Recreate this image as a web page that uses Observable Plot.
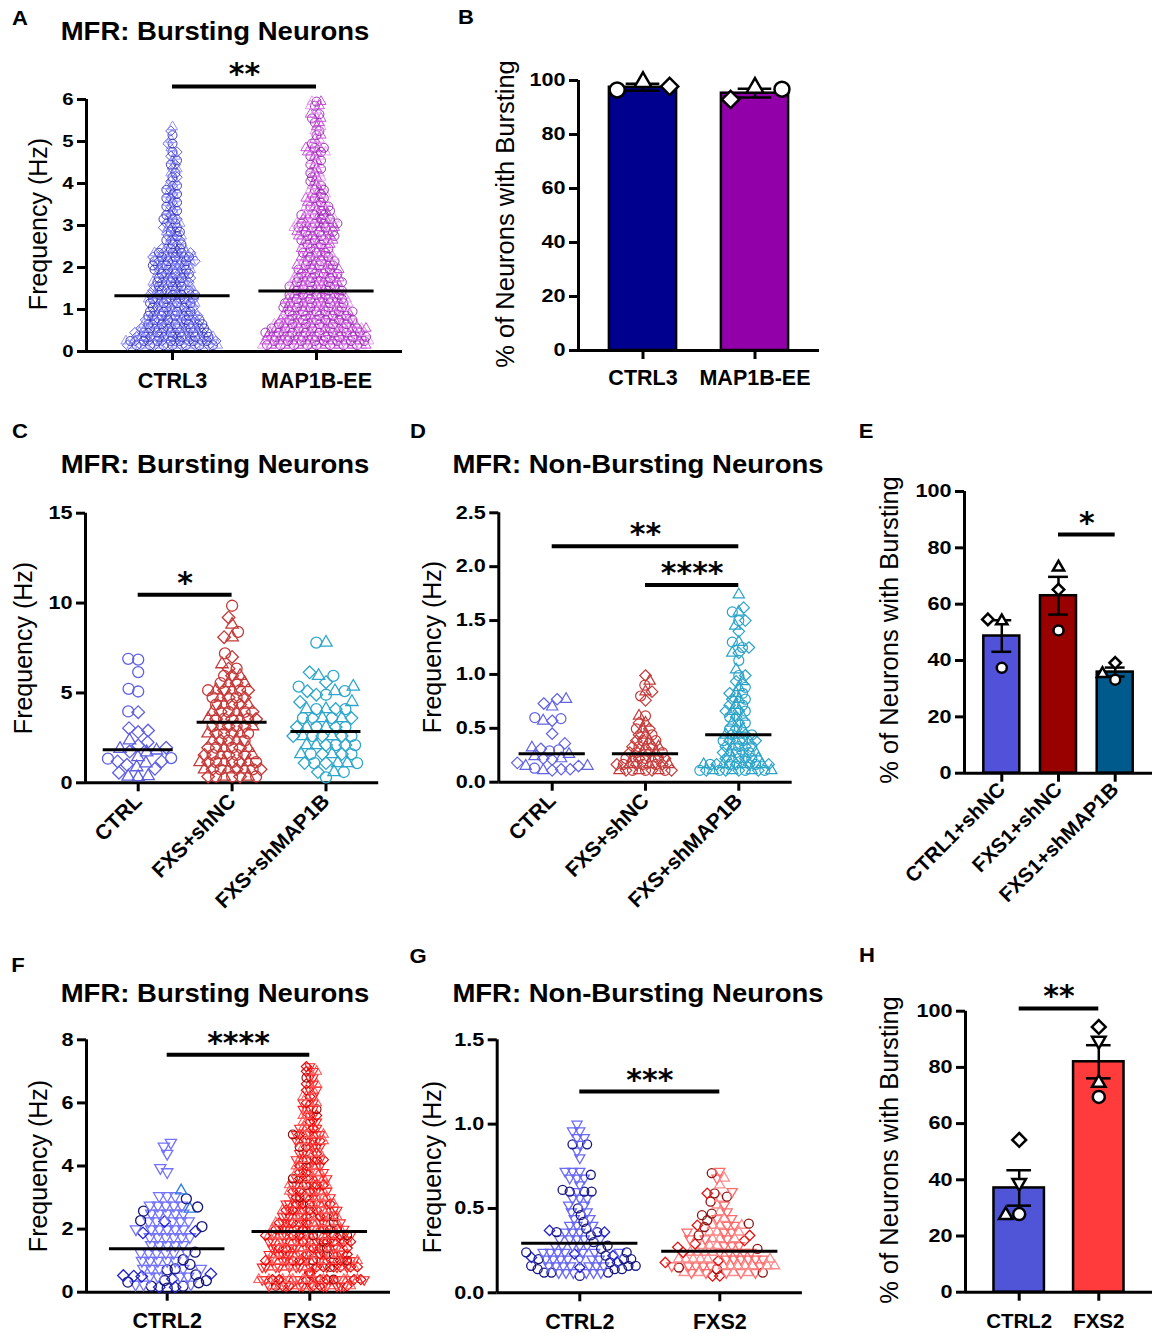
<!DOCTYPE html>
<html><head><meta charset="utf-8">
<script src="https://cdn.jsdelivr.net/npm/d3@7"></script>
<script src="https://cdn.jsdelivr.net/npm/@observablehq/plot@0.6"></script>
<style>
body{margin:0;background:#fff;}
#fig{position:relative;width:1152px;height:1333px;background:#fff;font-family:"Liberation Sans",Arial,Helvetica,sans-serif;color:#000;overflow:hidden;}
.lbl{position:absolute;white-space:nowrap;line-height:1;color:#000;}
</style></head><body><div id="fig"></div>
<script>
// ================= DATA =================
// Swarm groups: [value (Hz), number of neurons at that value]
const A_CATS = ["CTRL3", "MAP1B-EE"];
const A_CTRL3 = [[0.15,21],[0.25,21],[0.35,18],[0.45,17],[0.55,15],[0.65,14],[0.75,13],[0.85,12],[0.95,11],[1.05,10],[1.15,11],[1.25,11],[1.35,11],[1.45,10],[1.55,9],[1.65,9],[1.75,8],[1.85,8],[1.95,9],[2.05,9],[2.15,10],[2.25,10],[2.35,9],[2.45,6],[2.55,4],[2.65,4],[2.75,4],[2.85,4],[2.95,4],[3.05,4],[3.15,4],[3.25,3],[3.35,3],[3.45,3],[3.55,3],[3.65,3],[3.75,3],[3.85,3],[3.95,3],[4.05,2],[4.15,2],[4.25,2],[4.35,2],[4.45,2],[4.55,2],[4.65,2],[4.75,2],[4.85,1],[4.95,2],[5.05,1],[5.15,1],[5.25,1],[5.35,1]];
const A_MAP1B = [[0.15,24],[0.25,24],[0.35,23],[0.45,23],[0.55,22],[0.65,19],[0.75,17],[0.85,16],[0.95,16],[1.05,15],[1.15,15],[1.25,14],[1.35,13],[1.45,12],[1.55,12],[1.65,12],[1.75,11],[1.85,10],[1.95,10],[2.05,9],[2.15,8],[2.25,8],[2.35,7],[2.45,7],[2.55,7],[2.65,8],[2.75,9],[2.85,9],[2.95,10],[3.05,10],[3.15,8],[3.25,7],[3.35,6],[3.45,6],[3.55,5],[3.65,5],[3.75,4],[3.85,4],[3.95,3],[4.05,3],[4.15,3],[4.25,3],[4.35,3],[4.45,3],[4.55,3],[4.65,3],[4.75,5],[4.85,5],[4.95,2],[5.05,2],[5.15,2],[5.25,2],[5.35,2],[5.45,2],[5.55,3],[5.65,3],[5.75,1],[5.85,3],[5.95,3]];
const A_MEANS = [1.33, 1.44];
const A_SIG = [["CTRL3", "MAP1B-EE", 6.31, "**"]];

const B_CATS = ["CTRL3", "MAP1B-EE"];
const B_MEAN = [97.5, 95.3];
const B_SEM = [1.3, 1.6];
const B_REPS = [[["t",99.4],["c",96.5],["d",97.8]], [["t",97.3],["d",93.0],["c",96.8]]];

const C_CATS = ["CTRL", "FXS+shNC", "FXS+shMAP1B"];
const C_CTRL_CIRCLES = [6.90, 6.85, 6.16, 5.23, 5.08, 3.97, 1.37, 1.34];
const C_CTRL_DIAMONDS = [3.93, 3.04, 2.91, 2.82, 2.26, 2.08, 1.95, 1.74, 1.19, 1.19, 1.00, 0.78, 0.56];
const C_CTRL_TRIANGLES = [2.36, 1.89, 1.80, 1.70, 1.43, 1.09, 0.87, 0.37, 0.35, 0.32];
const C_SHNC = [[0.35,7],[0.75,8],[1.15,8],[1.55,7],[1.95,6],[2.35,5],[2.75,6],[3.15,6],[3.55,7],[3.95,6],[4.35,5],[4.75,5],[5.15,6],[5.55,4],[5.95,3],[6.35,2],[6.6,1],[7.0,1],[7.2,1],[8.1,2],[8.4,1],[8.8,1],[9.2,1],[9.85,1]];
const C_SHMAP1B = [[0.3,1],[0.6,3],[1.1,6],[1.6,6],[2.1,6],[2.6,7],[3.1,6],[3.6,6],[4.1,5],[4.5,2],[4.9,2],[5.1,3],[5.35,2],[5.6,1],[5.95,2],[6.15,1],[7.8,2]];
const C_MEANS = [1.84, 3.37, 2.85];
const C_SIG = [["CTRL", "FXS+shNC", 10.46, "*"]];

const D_CATS = ["CTRL", "FXS+shNC", "FXS+shMAP1B"];
const D_CTRL_DIAMONDS = [0.77, 0.73, 0.57, 0.45, 0.36, 0.31, 0.22, 0.21, 0.18, 0.15, 0.12, 0.12, 0.11];
const D_CTRL_TRIANGLES = [0.77, 0.70, 0.57, 0.32, 0.26, 0.24, 0.22, 0.15, 0.15, 0.11];
const D_CTRL_CIRCLES = [0.60, 0.59, 0.30, 0.29, 0.13];
const D_SHNC = [[0.11,9],[0.165,9],[0.22,7],[0.275,6],[0.33,5],[0.385,4],[0.44,3],[0.495,3],[0.55,2],[0.615,2],[0.76,1],[0.80,1],[0.84,2],[0.90,1],[0.94,1],[0.99,1]];
const D_SHMAP1B = [[0.11,12],[0.165,11],[0.22,6],[0.275,6],[0.33,5],[0.385,6],[0.44,5],[0.495,3],[0.55,3],[0.605,3],[0.66,4],[0.715,3],[0.77,3],[0.825,3],[0.88,2],[0.935,2],[0.99,2],[1.045,1],[1.13,1],[1.2,2],[1.25,2],[1.3,2],[1.4,1],[1.45,1],[1.5,2],[1.58,2],[1.62,1],[1.74,1]];
const D_MEANS = [0.264, 0.264, 0.44];
const D_SIG = [["CTRL", "FXS+shMAP1B", 2.19, "**"], ["FXS+shNC", "FXS+shMAP1B", 1.83, "****"]];

const E_CATS = ["CTRL1+shNC", "FXS1+shNC", "FXS1+shMAP1B"];
const E_MEAN = [48.7, 63.0, 35.9];
const E_SEM = [5.6, 6.7, 1.6];
const E_REPS = [[["t",54.0],["d",54.6],["c",37.4]], [["t",73.1],["d",65.2],["c",50.7]], [["c",33.2],["d",39.2],["t",35.3]]];
const E_SIG = [["FXS1+shNC", "FXS1+shMAP1B", 84.7, "*"]];

const F_CATS = ["CTRL2", "FXS2"];
const F_CTRL2_INVTRI = [[0.25,3],[0.5,4],[0.75,5],[1.0,5],[1.25,6],[1.5,5],[1.75,6],[2.0,6],[2.25,5],[2.5,5],[2.75,5],[3.05,3],[3.81,1],[3.94,1],[4.39,1],[4.62,1],[4.74,1]];
const F_CTRL2_CIRCLES = [2.96, 2.70, 2.57, 2.27, 2.08, 1.27, 1.03, 0.88, 0.74, 0.71, 0.55, 0.37, 0.37, 0.32, 0.30, 0.19, 0.19, 0.13];
const F_CTRL2_DIAMONDS = [2.24, 1.93, 1.88, 0.58, 0.53, 0.51, 0.50, 0.42, 0.16, 0.16];
const F_CTRL2_TRIANGLES = [3.22, 2.64];
const F_FXS2 = [[0.2,25],[0.4,32],[0.6,31],[0.8,29],[1.0,28],[1.2,24],[1.4,23],[1.6,25],[1.8,26],[2.0,22],[2.2,20],[2.4,17],[2.6,17],[2.8,15],[3.0,12],[3.2,12],[3.4,12],[3.6,11],[3.8,9],[4.0,8],[4.2,9],[4.4,7],[4.6,7],[4.8,9],[5.0,10],[5.2,6],[5.4,5],[5.6,5],[5.8,5],[6.0,5],[6.2,4],[6.4,4],[6.6,4],[6.8,3],[7.0,4],[7.15,2]];
const F_MEANS = [1.375, 1.925];
const F_SIG = [["CTRL2", "FXS2", 7.53, "****"]];

const G_CATS = ["CTRL2", "FXS2"];
const G_CTRL2_INVTRI = [[0.12,6],[0.16,7],[0.20,7],[0.24,7],[0.28,5],[0.32,5],[0.36,3],[0.40,3],[0.44,2],[0.48,2],[0.52,2],[0.56,3],[0.60,1],[0.64,1],[0.68,3],[0.72,3],[0.80,1],[0.84,1],[0.88,1],[0.92,2],[0.96,2],[1.0,1]];
const G_CTRL2_CIRCLES = [0.88, 0.88, 0.70, 0.61, 0.60, 0.60, 0.60, 0.50, 0.46, 0.42, 0.38, 0.36, 0.36, 0.34, 0.30, 0.28, 0.26, 0.24, 0.24, 0.22, 0.20, 0.20, 0.20, 0.18, 0.16, 0.16, 0.16, 0.14, 0.14, 0.14, 0.12, 0.12, 0.12, 0.10];
const G_CTRL2_DIAMONDS = [0.37, 0.36, 0.23, 0.22, 0.21, 0.18, 0.15];
const G_FXS2_TRI = [[0.12,9],[0.16,13],[0.20,12],[0.24,9],[0.28,6],[0.32,6],[0.36,6],[0.40,5],[0.44,3],[0.48,2],[0.52,2],[0.56,1],[0.60,1],[0.64,1],[0.68,2],[0.72,1]];
const G_FXS2_CIRCLES = [0.71, 0.59, 0.57, 0.54, 0.47, 0.46, 0.43, 0.41, 0.39, 0.34, 0.26, 0.15, 0.14, 0.12];
const G_FXS2_DIAMONDS = [0.59, 0.40, 0.34, 0.31, 0.29, 0.27, 0.24, 0.19, 0.18, 0.10, 0.10];
const G_MEANS = [0.294, 0.247];
const G_SIG = [["CTRL2", "FXS2", 1.193, "***"]];

const H_CATS = ["CTRL2", "FXS2"];
const H_MEAN = [37.1, 82.0];
const H_SEM = [6.3, 5.9];
const H_REPS = [[["d",54.2],["v",38.9],["c",27.8],["t",27.4]], [["d",94.4],["v",89.5],["t",74.5],["c",69.5]]];
const H_SIG = [["CTRL2", "FXS2", 101, "**"]];

// ================= SYMBOLS =================
const BASE = {
  c: (ctx, r) => { ctx.moveTo(r, 0); ctx.arc(0, 0, r, 0, 2 * Math.PI); ctx.closePath(); },
  t: (ctx, r) => { const R = 1.3 * r, h = R * Math.sqrt(3) / 2; ctx.moveTo(0, -R); ctx.lineTo(h, R / 2); ctx.lineTo(-h, R / 2); ctx.closePath(); },
  v: (ctx, r) => { const R = 1.3 * r, h = R * Math.sqrt(3) / 2; ctx.moveTo(0, R); ctx.lineTo(h, -R / 2); ctx.lineTo(-h, -R / 2); ctx.closePath(); },
  d: (ctx, r) => { const D = 1.15 * r; ctx.moveTo(0, -D); ctx.lineTo(D, 0); ctx.lineTo(0, D); ctx.lineTo(-D, 0); ctx.closePath(); }
};
// "X2" variants are drawn 1.3x larger than the radius used for the dodge layout (dense swarms)
const SYM = {};
for (const k of Object.keys(BASE)) {
  SYM[k] = {draw(ctx, size) { BASE[k](ctx, Math.sqrt(size / Math.PI)); }};
  SYM[k + "2"] = {draw(ctx, size) { BASE[k](ctx, 1.3 * Math.sqrt(size / Math.PI)); }};
}
const SYM_KEYS = Object.keys(SYM);

function fromBins(g, bins, styles) {
  const out = []; let k = 0;
  for (const [v, n] of bins) for (let i = 0; i < n; i++) { const s = styles[k++ % styles.length]; out.push({g, v, sym: s[0], color: s[1]}); }
  return out;
}
function fromList(g, vals, sym, color) { return vals.map(v => ({g, v, sym, color})); }
const byV = (a, b) => a.v - b.v;

function layout(p) {
  const n = p.centers.length;
  const step = (p.centers[n - 1] - p.centers[0]) / (n - 1);
  const padPx = p.centers[0] - step / 2 - p.yAxisX;
  const rangeRight = p.centers[n - 1] + step / 2 + padPx;
  return {n, step, padPx, unit: step / 2,
    marginLeft: p.yAxisX - p.left, marginRight: p.left + p.width - rangeRight,
    marginTop: p.yTop - p.top, marginBottom: p.top + p.height - p.y0, po: padPx / step};
}

const FONT = "Liberation Sans, Arial, Helvetica, sans-serif";

function commonMarks(p, L) {
  const xl = -1 - L.padPx / L.unit;
  const xr = 2 * L.n - 1 + L.padPx / L.unit;
  return [
    Plot.axisY({facetAnchor: "left", ticks: p.yTicks, tickFormat: p.yFmt || (d => String(d)), tickSize: 9, tickPadding: 4,
      strokeWidth: 3, fontSize: p.yFs, fontWeight: "bold", dx: -L.padPx, label: null}),
    Plot.axisFx({anchor: "bottom", tickSize: 9, tickPadding: p.xPad, tickRotate: p.rot || 0, fontSize: p.xFs,
      fontWeight: "bold", strokeWidth: 3, label: null}),
    Plot.ruleX([p.cats[0]], {fx: d => d, x: xl, y1: 0, y2: p.ymax, strokeWidth: 3}),
    Plot.ruleY([p.cats[0]], {fx: d => d, y: 0, x1: xl, x2: xr, strokeWidth: 3})
  ];
}
function sigMarks(p) {
  const idx = c => p.cats.indexOf(c);
  const sig = p.sig.map(([a, b, y, label]) => ({a, y, label, span: idx(b) - idx(a)}));
  return [
    Plot.ruleY(sig, {fx: "a", y: "y", x1: 0, x2: d => 2 * d.span, strokeWidth: 4}),
    Plot.text(sig, {fx: "a", x: d => d.span, y: "y", text: "label", fontFamily: "DejaVu Sans", fontWeight: "bold",
      fontSize: 30, textAnchor: "middle", dy: -0.32 * 30 - 2, fill: "black"})
  ];
}
function basePlot(p, L, marks) {
  return Plot.plot({
    width: p.width, height: p.height,
    marginLeft: L.marginLeft, marginRight: L.marginRight, marginTop: L.marginTop, marginBottom: L.marginBottom,
    style: {fontFamily: FONT, color: "black", overflow: "visible", background: "transparent", maxWidth: "none"},
    fx: {domain: p.cats, paddingInner: 0, paddingOuter: L.po, round: false, label: null},
    x: {domain: [-1, 1], axis: null},
    y: {domain: [0, p.ymax], axis: null},
    color: {type: "identity"},
    symbol: {domain: SYM_KEYS, range: SYM_KEYS.map(k => SYM[k])},
    marks
  });
}

function swarmPanel(p) {
  const L = layout(p);
  const marks = [
    ...commonMarks(p, L),
    ...p.groups.map(gr => Plot.dot(gr.pts.slice().sort(byV),
      Plot.dodgeX({anchor: "middle", padding: gr.pad},
        {fx: "g", y: "v", r: gr.r, symbol: gr.big ? (d => d.sym + "2") : "sym", stroke: "color", strokeWidth: gr.sw, strokeOpacity: gr.so || 1, fill: "none"}))),
    Plot.ruleY(p.cats.map((c, i) => ({c, m: p.means[i]})), {fx: "c", y: "m", x1: -p.mw, x2: p.mw, strokeWidth: 3}),
    ...sigMarks(p)
  ];
  return mount(p, basePlot(p, L, marks));
}

function barPanel(p) {
  const L = layout(p);
  const bars = p.cats.map((g, i) => ({g, v: p.mean[i], s: p.sem[i], fill: p.colors[i]}));
  const pts = [];
  p.reps.forEach((arr, i) => arr.forEach(([sym, v]) => pts.push({g: p.cats[i], v, sym})));
  const marks = [
    Plot.rect(bars, {fx: "g", x1: -p.bw, x2: p.bw, y1: 0, y2: "v", fill: "fill", stroke: "black", strokeWidth: 2.5}),
    ...commonMarks(p, L),
    Plot.ruleX(bars, {fx: "g", x: 0, y1: d => d.v - d.s, y2: d => d.v + d.s, strokeWidth: 2.5}),
    Plot.ruleY(bars, {fx: "g", y: d => d.v + d.s, x1: -p.cw, x2: p.cw, strokeWidth: 2.5}),
    Plot.ruleY(bars, {fx: "g", y: d => d.v - d.s, x1: -p.cw, x2: p.cw, strokeWidth: 2.5}),
    Plot.dot(pts, Plot.dodgeX({anchor: "middle", padding: p.pad},
      {fx: "g", y: "v", r: p.r, symbol: "sym", fill: "white", stroke: "black", strokeWidth: 2.5})),
    ...sigMarks(p)
  ];
  return mount(p, basePlot(p, L, marks));
}

const fig = document.getElementById("fig");
function mount(p, svg) {
  svg.querySelectorAll('g[aria-label="y-axis tick label"] text').forEach(t => {
    const tr = t.getAttribute("transform");
    if (tr) t.setAttribute("transform", tr + " scale(1.2,1)");
  });
  const wrap = document.createElement("div");
  wrap.style.cssText = `position:absolute;left:${p.left}px;top:${p.top}px;width:${p.width}px;height:${p.height}px;`;
  wrap.appendChild(svg);
  fig.appendChild(wrap);
}

// ================= PANELS =================
const f1 = d3.format(".1f");
const ticks = (a, b, s) => d3.range(a, b + s / 2, s);

// A
swarmPanel({left: 0, top: 45, width: 410, height: 356, yAxisX: 86, y0: 351, yTop: 99, centers: [172, 316],
  cats: A_CATS, ymax: 6, yTicks: ticks(0, 6, 1), yFs: 17, xFs: 21.5, xPad: 12, mw: 0.8, means: A_MEANS, sig: A_SIG,
  groups: [
    {pts: fromBins("CTRL3", A_CTRL3, [["c", "#2e2eb0"], ["d", "#4b4be6"], ["t", "#8a8aff"]]), r: 4.5, pad: -4.5, sw: 1, so: 0.9},
    {pts: fromBins("MAP1B-EE", A_MAP1B, [["c", "#8d22a8"], ["t", "#c640d8"], ["t", "#e394ef"]]), r: 4.5, pad: -4.5, sw: 1, so: 0.9}
  ]});

// B
barPanel({left: 440, top: 45, width: 389, height: 355, yAxisX: 578, y0: 350, yTop: 80, centers: [642.5, 754.5],
  cats: B_CATS, ymax: 100, yTicks: ticks(0, 100, 20), yFs: 18, xFs: 21.5, xPad: 10, mean: B_MEAN, sem: B_SEM,
  colors: ["#00008f", "#9100a8"], reps: B_REPS, bw: 0.6, cw: 0.3, r: 7.5, pad: 12, sig: []});

// C
swarmPanel({left: 0, top: 500, width: 386, height: 418, yAxisX: 85, y0: 782.3, yTop: 512.7, centers: [137.7, 231.7, 325.5],
  cats: C_CATS, ymax: 15, yTicks: [0, 5, 10, 15], yFs: 18, xFs: 21, xPad: 6, rot: -45, mw: 0.745, means: C_MEANS, sig: C_SIG,
  groups: [
    {pts: [...fromList("CTRL", C_CTRL_CIRCLES, "c", "#5f5fe3"), ...fromList("CTRL", C_CTRL_DIAMONDS, "d", "#5f5fe3"), ...fromList("CTRL", C_CTRL_TRIANGLES, "t", "#5f5fe3")], r: 5.5, pad: -1, sw: 1.3},
    {pts: fromBins("FXS+shNC", C_SHNC, [["c", "#c53a3a"], ["t", "#c53a3a"], ["d", "#c53a3a"]]), r: 5.5, pad: -3, sw: 1.3},
    {pts: fromBins("FXS+shMAP1B", C_SHMAP1B, [["c", "#2fa7cc"], ["d", "#2fa7cc"], ["t", "#2fa7cc"]]), r: 5.5, pad: -1.3, sw: 1.3}
  ]});

// D
swarmPanel({left: 410, top: 500, width: 390, height: 417, yAxisX: 498.3, y0: 781.7, yTop: 512.3, centers: [551.7, 645, 738.3],
  cats: D_CATS, ymax: 2.5, yTicks: ticks(0, 2.5, 0.5), yFmt: f1, yFs: 18, xFs: 21, xPad: 6, rot: -45, mw: 0.71, means: D_MEANS, sig: D_SIG,
  groups: [
    {pts: [...fromList("CTRL", D_CTRL_DIAMONDS, "d", "#6262e6"), ...fromList("CTRL", D_CTRL_TRIANGLES, "t", "#6262e6"), ...fromList("CTRL", D_CTRL_CIRCLES, "c", "#6262e6")], r: 5, pad: -1, sw: 1.2},
    {pts: fromBins("FXS+shNC", D_SHNC, [["c", "#c53a3a"], ["t", "#c53a3a"], ["d", "#c53a3a"]]), r: 5, pad: -3.5, sw: 1.2},
    {pts: fromBins("FXS+shMAP1B", D_SHMAP1B, [["d", "#2aa3c9"], ["t", "#2aa3c9"], ["c", "#2aa3c9"]]), r: 5, pad: -3.5, sw: 1.2}
  ]});

// E
barPanel({left: 850, top: 470, width: 302, height: 443, yAxisX: 964, y0: 772.7, yTop: 491, centers: [1001.3, 1058, 1114.7],
  cats: E_CATS, ymax: 100, yTicks: ticks(0, 100, 20), yFs: 18, xFs: 20.5, xPad: 4, rot: -45, mean: E_MEAN, sem: E_SEM,
  colors: ["#5151d9", "#990000", "#005a8c"], reps: E_REPS, bw: 0.635, cw: 0.35, r: 5, pad: 4, sig: E_SIG});

// F
const FXS2_STYLE = [["v", "#ff2020"], ["t", "#ff5c5c"], ["d", "#e00000"], ["v", "#ff2020"], ["t", "#ff5c5c"], ["v", "#ff2020"], ["d", "#e00000"], ["t", "#ff5c5c"], ["v", "#ff2020"], ["t", "#ff5c5c"],
  ["v", "#ff2020"], ["d", "#e00000"], ["t", "#ff5c5c"], ["v", "#ff2020"], ["t", "#ff5c5c"], ["d", "#e00000"], ["v", "#ff2020"], ["t", "#ff5c5c"], ["v", "#ff2020"], ["c", "#8b0a0a"]];
swarmPanel({left: 0, top: 1020, width: 398, height: 313, yAxisX: 86, y0: 1291.7, yTop: 1039.3, centers: [166.7, 309.3],
  cats: F_CATS, ymax: 8, yTicks: ticks(0, 8, 2), yFs: 18, xFs: 21.5, xPad: 12, mw: 0.81, means: F_MEANS, sig: F_SIG,
  groups: [
    {pts: [...fromBins("CTRL2", F_CTRL2_INVTRI, [["v", "#7373ff"]]), ...fromList("CTRL2", F_CTRL2_CIRCLES, "c", "#15157a"),
      ...fromList("CTRL2", F_CTRL2_DIAMONDS, "d", "#2020cc"), ...fromList("CTRL2", F_CTRL2_TRIANGLES, "t", "#2a7de1")], r: 5, pad: -2, sw: 1.3},
    {pts: fromBins("FXS2", F_FXS2, FXS2_STYLE), r: 3.4, pad: -3.4, sw: 1.1, big: true}
  ]});

// G
swarmPanel({left: 410, top: 1020, width: 400, height: 313, yAxisX: 496.7, y0: 1292.3, yTop: 1039.3, centers: [579.3, 719.3],
  cats: G_CATS, ymax: 1.5, yTicks: ticks(0, 1.5, 0.5), yFmt: f1, yFs: 18, xFs: 21.5, xPad: 12, mw: 0.83, means: G_MEANS, sig: G_SIG,
  groups: [
    {pts: [...fromBins("CTRL2", G_CTRL2_INVTRI, [["v", "#6a6af5"]]), ...fromList("CTRL2", G_CTRL2_CIRCLES, "c", "#161680"),
      ...fromList("CTRL2", G_CTRL2_DIAMONDS, "d", "#2222cc")], r: 4.5, pad: -1.7, sw: 1.3},
    {pts: [...fromBins("FXS2", G_FXS2_TRI, [["v", "#ff6b6b"], ["t", "#ff8c8c"]]), ...fromList("FXS2", G_FXS2_CIRCLES, "c", "#8f1515"),
      ...fromList("FXS2", G_FXS2_DIAMONDS, "d", "#e61010")], r: 4.5, pad: -1.7, sw: 1.3}
  ]});

// H
barPanel({left: 850, top: 965, width: 302, height: 368, yAxisX: 965, y0: 1291.7, yTop: 1010.7, centers: [1018.7, 1098.3],
  cats: H_CATS, ymax: 100, yTicks: ticks(0, 100, 20), yFs: 18, xFs: 20.5, xPad: 12, mean: H_MEAN, sem: H_SEM,
  colors: ["#5055d8", "#ff3b3b"], reps: H_REPS, bw: 0.634, cw: 0.31, r: 6, pad: 1.5, sig: H_SIG});

// ================= HTML TEXT =================
const LABELS = [
  ["A", 20, 17], ["B", 466, 16], ["C", 19.5, 430], ["D", 418, 430],
  ["E", 866, 430], ["F", 17.5, 963.5], ["G", 418, 955], ["H", 867, 953.5]
];
const TITLES = [
  ["MFR: Bursting Neurons", 215, 31], ["MFR: Bursting Neurons", 215, 464], ["MFR: Non-Bursting Neurons", 638, 464],
  ["MFR: Bursting Neurons", 215, 992.5], ["MFR: Non-Bursting Neurons", 638, 993]
];
const YLABELS = [
  ["Frequency (Hz)", 38, 224], ["% of Neurons with Bursting", 506, 214], ["Frequency (Hz)", 23, 647.5],
  ["Frequency (Hz)", 431.7, 647], ["% of Neurons with Bursting", 890, 630], ["Frequency (Hz)", 38, 1166],
  ["Frequency (Hz)", 431.7, 1167], ["% of Neurons with Bursting", 890, 1150]
];
function addText(t, x, y, css, transform) {
  const d = document.createElement("div");
  d.className = "lbl"; d.textContent = t;
  d.style.cssText += `left:${x}px;top:${y}px;transform:translate(-50%,-50%) ${transform};${css}`;
  fig.appendChild(d);
}
LABELS.forEach(([t, x, y]) => addText(t, x, y, "font-size:21px;font-weight:bold;", "scaleX(1.05)"));
TITLES.forEach(([t, x, y]) => addText(t, x, y, "font-size:25px;font-weight:bold;", "scaleX(1.1)"));
YLABELS.forEach(([t, x, y]) => addText(t, x, y, `font-size:${t.startsWith("%") ? 25.5 : 25}px;font-weight:normal;`, "rotate(-90deg)"));
</script></body></html>
